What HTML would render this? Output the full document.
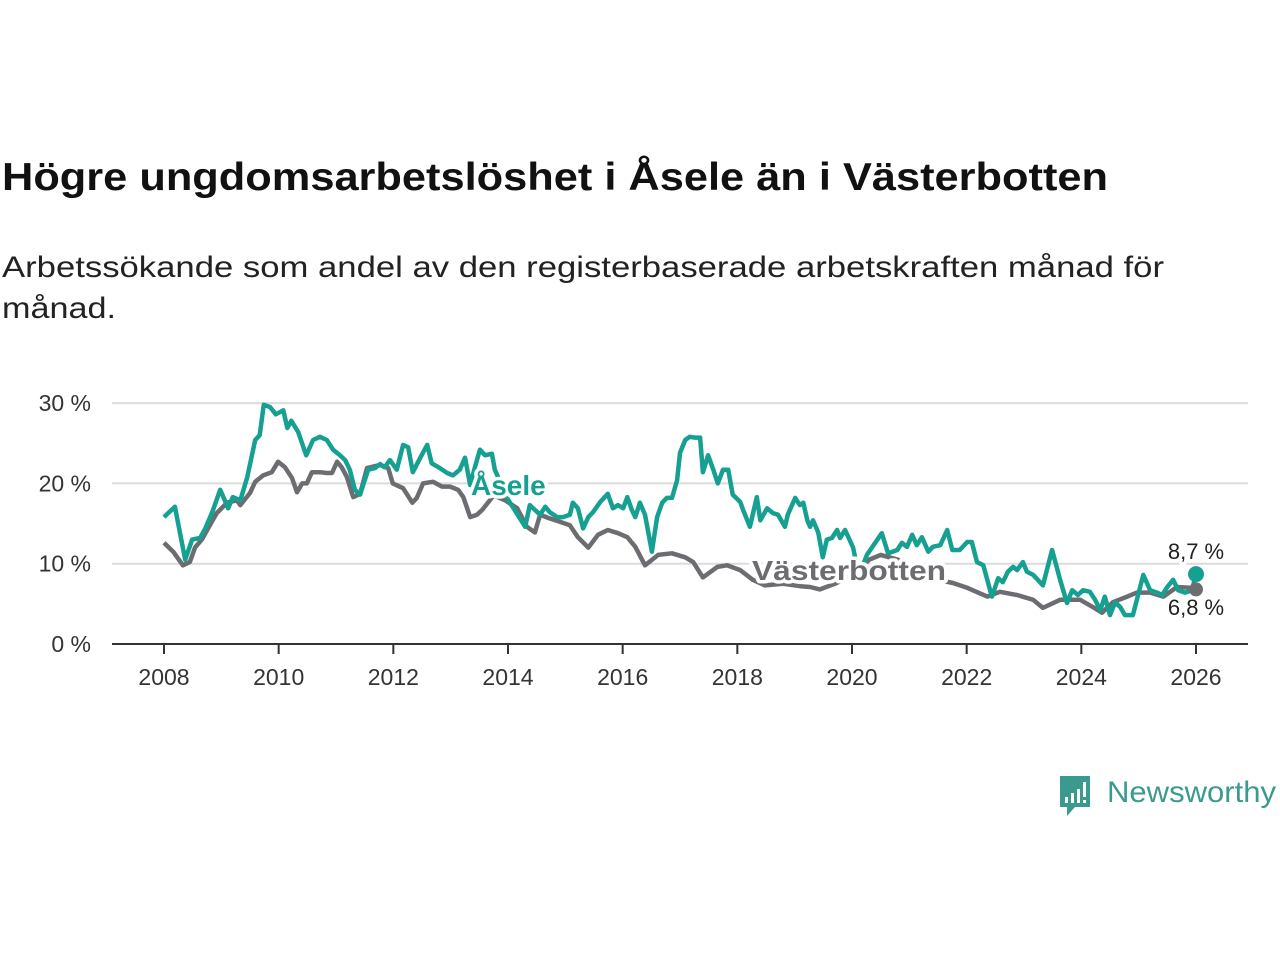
<!DOCTYPE html>
<html><head><meta charset="utf-8"><style>
html,body{margin:0;padding:0;background:#fff;width:1280px;height:960px;overflow:hidden}
svg{display:block;font-family:"Liberation Sans",sans-serif}
</style></head><body>
<svg id="chart" width="1280" height="960" viewBox="0 0 1280 960">
<text x="2" y="190" font-size="39" font-weight="bold" fill="#111" textLength="1106" lengthAdjust="spacingAndGlyphs">Högre ungdomsarbetslöshet i Åsele än i Västerbotten</text>
<text x="2" y="277" font-size="30" fill="#222" textLength="1162" lengthAdjust="spacingAndGlyphs">Arbetssökande som andel av den registerbaserade arbetskraften månad för</text>
<text x="2" y="318" font-size="30" fill="#222" textLength="114" lengthAdjust="spacingAndGlyphs">månad.</text>
<g id="grid"></g><g id="xaxis"></g><g id="lines"></g><g id="labels"></g>
<g>
<path d="M1060 776 h30 v31 h-15 l-8 9 v-9 h-7 z" fill="#3a9a8e"/>
<rect x="1065" y="797" width="3" height="6" fill="#fff"/><rect x="1071" y="793" width="3" height="10" fill="#fff"/><rect x="1077" y="789" width="3" height="14" fill="#fff"/><rect x="1083" y="782" width="3" height="15" fill="#fff"/><rect x="1083" y="800" width="3" height="3" fill="#fff"/>
<text x="1107" y="802" font-size="30" fill="#3a9a8e" textLength="169" lengthAdjust="spacingAndGlyphs">Newsworthy</text>
</g>
</svg>
<script>
const yTicks=[0,10,20,30];
const yTickLabels=["0 %","10 %","20 %","30 %"];
const xTicks=[2008,2010,2012,2014,2016,2018,2020,2022,2024,2026];
const aseleYears=[2008.0,2008.19,2008.37,2008.49,2008.63,2008.72,2008.84,2008.98,2009.12,2009.2,2009.33,2009.45,2009.59,2009.67,2009.74,2009.85,2009.95,2010.08,2010.15,2010.22,2010.34,2010.48,2010.6,2010.72,2010.84,2010.95,2011.07,2011.16,2011.24,2011.33,2011.42,2011.56,2011.68,2011.77,2011.85,2011.94,2012.06,2012.17,2012.26,2012.34,2012.47,2012.59,2012.67,2012.81,2012.94,2013.04,2013.16,2013.25,2013.34,2013.42,2013.51,2013.6,2013.72,2013.77,2014.0,2014.3,2014.38,2014.47,2014.56,2014.65,2014.73,2014.86,2014.96,2015.08,2015.13,2015.22,2015.31,2015.4,2015.48,2015.61,2015.74,2015.83,2015.92,2016.01,2016.08,2016.16,2016.22,2016.3,2016.39,2016.51,2016.6,2016.69,2016.77,2016.86,2016.95,2017.0,2017.09,2017.17,2017.26,2017.35,2017.4,2017.49,2017.58,2017.66,2017.75,2017.84,2017.92,2018.05,2018.1,2018.22,2018.34,2018.4,2018.52,2018.62,2018.71,2018.83,2018.88,2019.01,2019.09,2019.15,2019.22,2019.27,2019.32,2019.41,2019.49,2019.56,2019.65,2019.74,2019.79,2019.88,2020.02,2020.12,2020.26,2020.52,2020.63,2020.79,2020.87,2020.96,2021.05,2021.13,2021.22,2021.33,2021.41,2021.54,2021.66,2021.75,2021.88,2022.01,2022.09,2022.18,2022.29,2022.44,2022.55,2022.63,2022.72,2022.81,2022.88,2022.98,2023.05,2023.16,2023.24,2023.33,2023.49,2023.63,2023.75,2023.84,2023.94,2024.03,2024.15,2024.24,2024.33,2024.41,2024.5,2024.59,2024.68,2024.76,2024.9,2025.08,2025.2,2025.32,2025.41,2025.5,2025.6,2025.69,2025.81,2025.93,2026.0];
const aseleValues=[15.8,17.1,10.5,13.0,13.2,14.4,16.4,19.2,16.9,18.3,17.9,20.7,25.4,26.0,29.8,29.5,28.6,29.1,26.9,27.8,26.4,23.5,25.4,25.8,25.4,24.2,23.5,22.9,21.7,19.2,18.6,21.7,21.9,22.4,22.0,22.9,21.7,24.8,24.5,21.4,23.2,24.8,22.5,21.9,21.3,21.0,21.7,23.2,19.8,21.9,24.2,23.5,23.7,21.7,18.0,14.6,17.3,16.7,16.1,17.1,16.4,15.8,15.8,16.1,17.6,16.9,14.4,15.8,16.4,17.7,18.7,16.9,17.3,16.9,18.3,16.7,15.8,17.6,16.1,11.5,15.8,17.6,18.2,18.2,20.4,23.8,25.4,25.8,25.7,25.7,21.4,23.5,21.7,20.0,21.7,21.7,18.6,17.7,16.7,14.6,18.3,15.4,16.9,16.3,16.1,14.6,16.1,18.2,17.3,17.6,15.4,14.6,15.4,13.9,10.8,13.0,13.2,14.2,13.2,14.2,12.0,8.5,11.1,13.8,11.3,11.7,12.6,12.1,13.6,12.3,13.3,11.5,12.1,12.3,14.2,11.7,11.7,12.7,12.7,10.2,9.8,5.9,8.2,7.7,9.0,9.6,9.2,10.2,9.0,8.6,8.0,7.3,11.7,8.0,5.1,6.7,6.1,6.7,6.5,5.5,4.2,5.9,3.6,5.2,4.6,3.6,3.6,8.6,6.7,6.4,6.1,7.1,8.0,6.7,6.4,6.7,8.7];
const vbYears=[2008.0,2008.16,2008.33,2008.45,2008.54,2008.66,2008.8,2008.92,2009.1,2009.27,2009.33,2009.5,2009.59,2009.73,2009.88,2009.99,2010.11,2010.23,2010.32,2010.41,2010.49,2010.58,2010.72,2010.84,2010.93,2011.02,2011.1,2011.19,2011.3,2011.42,2011.54,2011.77,2011.91,2011.99,2012.17,2012.33,2012.41,2012.52,2012.69,2012.85,2012.99,2013.13,2013.22,2013.34,2013.46,2013.55,2013.75,2013.95,2014.16,2014.33,2014.47,2014.56,2014.7,2014.91,2015.08,2015.22,2015.4,2015.57,2015.74,2015.92,2016.08,2016.22,2016.39,2016.62,2016.86,2017.09,2017.23,2017.4,2017.65,2017.82,2018.05,2018.27,2018.48,2018.8,2019.1,2019.27,2019.44,2019.7,2020.0,2020.3,2020.5,2020.8,2021.2,2021.5,2021.76,2022.01,2022.36,2022.58,2022.88,2023.16,2023.33,2023.63,2023.98,2024.2,2024.36,2024.55,2024.8,2024.97,2025.2,2025.43,2025.67,2025.89,2026.0];
const vbValues=[12.6,11.5,9.8,10.2,12.0,13.0,14.8,16.3,17.6,17.9,17.3,18.8,20.2,21.0,21.4,22.7,22.0,20.7,18.9,20.0,20.0,21.4,21.4,21.3,21.3,22.7,22.0,20.8,18.3,18.7,21.9,22.3,21.9,20.0,19.4,17.6,18.2,20.0,20.2,19.6,19.6,19.2,18.3,15.8,16.1,16.7,18.5,17.9,16.9,14.6,13.9,16.1,15.7,15.2,14.8,13.3,12.0,13.6,14.2,13.8,13.3,12.1,9.8,11.1,11.3,10.8,10.2,8.3,9.6,9.8,9.2,8.0,7.3,7.5,7.2,7.1,6.8,7.5,8.5,10.5,11.1,10.5,9.0,8.0,7.6,7.0,5.9,6.5,6.1,5.5,4.5,5.5,5.5,4.6,3.9,5.2,5.9,6.4,6.4,5.9,7.1,7.0,6.8];
const lastLabels=["8,7 %","6,8 %"];
const X0=112,X1=1248;
const x=y=>164+(y-2008)*(1032/18);
const yS=v=>644-v*8.03;
const NS="http://www.w3.org/2000/svg";
function mk(tag,attrs,parent,txt){const e=document.createElementNS(NS,tag);for(const k in attrs)e.setAttribute(k,attrs[k]);if(txt!==undefined)e.textContent=txt;parent.appendChild(e);return e;}
const grid=document.getElementById('grid'),xa=document.getElementById('xaxis'),lines=document.getElementById('lines'),labels=document.getElementById('labels');
yTicks.forEach((t,i)=>{
 if(t>0){const g=mk('line',{x1:X0,x2:X1,y1:yS(t),y2:yS(t),stroke:'#dcdcdc','stroke-width':2},grid);
 
 }
 const l=mk('text',{x:91,y:yS(t)+8,'font-size':23,'text-anchor':'end',fill:'#333'},grid,yTickLabels[i]);
 
 
});
const ax=mk('line',{x1:X0,x2:X1,y1:644,y2:644,stroke:'#333','stroke-width':2},xa);


xTicks.forEach(t=>{
 mk('line',{x1:x(t),x2:x(t),y1:644,y2:654,stroke:'#333','stroke-width':2},xa);
 const l=mk('text',{x:x(t),y:685,'font-size':23,'text-anchor':'middle',fill:'#333'},xa,String(t));
 
 
});
function path(ys,vs){return ys.map((y,i)=>(i?'L':'M')+x(y).toFixed(1)+' '+yS(vs[i]).toFixed(1)).join(' ');}
const vb=mk('path',{d:path(vbYears,vbValues),fill:'none',stroke:'#6d6c71','stroke-width':4.5,'stroke-linejoin':'round'},lines);


const as=mk('path',{d:path(aseleYears,aseleValues),fill:'none',stroke:'#15a092','stroke-width':4.5,'stroke-linejoin':'round'},lines);


const d1=mk('circle',{cx:x(vbYears[vbYears.length-1]),cy:yS(vbValues[vbValues.length-1]),r:7,fill:'#6d6c71'},lines);


const d2=mk('circle',{cx:x(aseleYears[aseleYears.length-1]),cy:yS(aseleValues[aseleValues.length-1]),r:8,fill:'#15a092'},lines);


const halo={stroke:'#fff','stroke-width':7,'paint-order':'stroke','stroke-linejoin':'round'};
const la=mk('text',Object.assign({x:471,y:495,'font-size':28,'font-weight':'bold',fill:'#15a092'},halo),labels,'Åsele');


const lv=mk('text',Object.assign({x:752,y:580,'font-size':28,'font-weight':'bold',fill:'#6d6c71',textLength:194,lengthAdjust:'spacingAndGlyphs'},halo),labels,'Västerbotten');


const e1=mk('text',Object.assign({x:1196,y:559,'font-size':22,'text-anchor':'middle',fill:'#222'},halo),labels,lastLabels[0]);


const e2=mk('text',Object.assign({x:1196,y:615,'font-size':22,'text-anchor':'middle',fill:'#222'},halo),labels,lastLabels[1]);


</script>
</body></html>
